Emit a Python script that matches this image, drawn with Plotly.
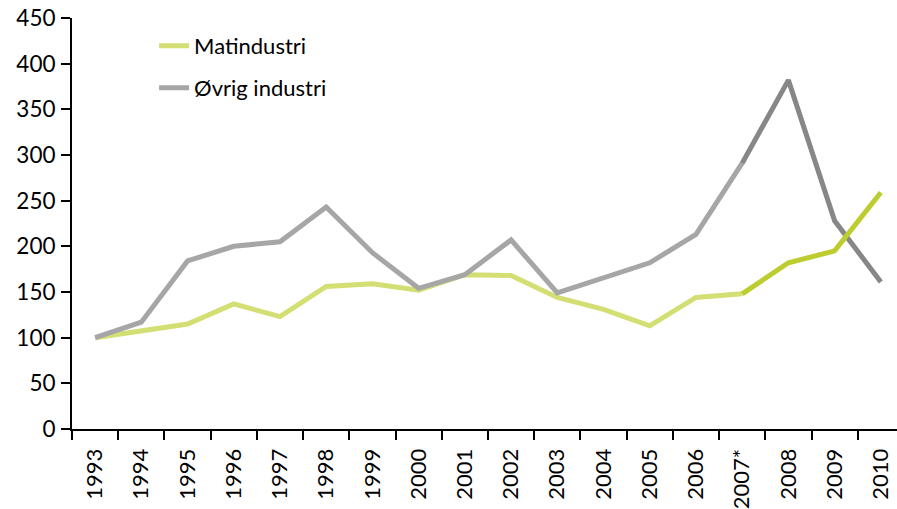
import plotly.graph_objects as go

years = ["1993", "1994", "1995", "1996", "1997", "1998", "1999", "2000", "2001",
         "2002", "2003", "2004", "2005", "2006", "2007*", "2008", "2009", "2010"]
matindustri = [100, 108, 115, 137, 123, 156, 159, 152, 169, 168, 144, 131, 113, 144, 148, 182, 195, 259]
ovrig = [100, 117, 184, 200, 205, 243, 193, 154, 169, 207, 149, 166, 182, 213, 291, 382, 228, 161]
y_ticks = [0, 50, 100, 150, 200, 250, 300, 350, 400, 450]

split = years.index("2007*")
font = "Lato, 'Open Sans', sans-serif"
LW = 5

fig = go.Figure()
fig.add_trace(go.Scatter(x=years[:split + 1], y=matindustri[:split + 1], mode="lines",
                         name="Matindustri", legend="legend",
                         line=dict(color="#d3de73", width=LW)))
fig.add_trace(go.Scatter(x=years[:split + 1], y=ovrig[:split + 1], mode="lines",
                         name="Øvrig industri", legend="legend2",
                         line=dict(color="#a6a6a6", width=LW)))
fig.add_trace(go.Scatter(x=years[split:], y=ovrig[split:], mode="lines", showlegend=False,
                         line=dict(color="#878787", width=LW)))
fig.add_trace(go.Scatter(x=years[split:], y=matindustri[split:], mode="lines", showlegend=False,
                         line=dict(color="#bdcc2f", width=LW)))

leg_common = dict(xanchor="left", yanchor="middle", bgcolor="rgba(0,0,0,0)",
                  font=dict(size=22, family=font, color="black"))

fig.update_layout(
    width=897, height=509,
    margin=dict(l=72, r=0, t=18, b=80),
    paper_bgcolor="white", plot_bgcolor="white",
    font=dict(family=font, size=22, color="black"),
    legend=dict(x=0.0995, y=0.932, **leg_common),
    legend2=dict(x=0.0995, y=0.83, **leg_common),
    xaxis=dict(type="category", categoryorder="array", categoryarray=years,
               range=[-0.5, 17.35], automargin=False,
               tickson="boundaries", ticks="outside", ticklen=9, tickwidth=2, tickcolor="black",
               showline=True, linecolor="black", linewidth=2, showgrid=False,
               tickangle=-90, tickfont=dict(size=22), ticklabelstandoff=9),
    yaxis=dict(range=[0, 450], tickvals=y_ticks, ticks="outside", ticklen=9, tickwidth=2,
               tickcolor="black", showline=True, linecolor="black", linewidth=2,
               automargin=False, showgrid=False, zeroline=False,
               tickfont=dict(size=22.5), ticklabelstandoff=1),
)

fig.write_html("out.html", config={"displayModeBar": False},
               post_script="document.body.style.margin='0';")
